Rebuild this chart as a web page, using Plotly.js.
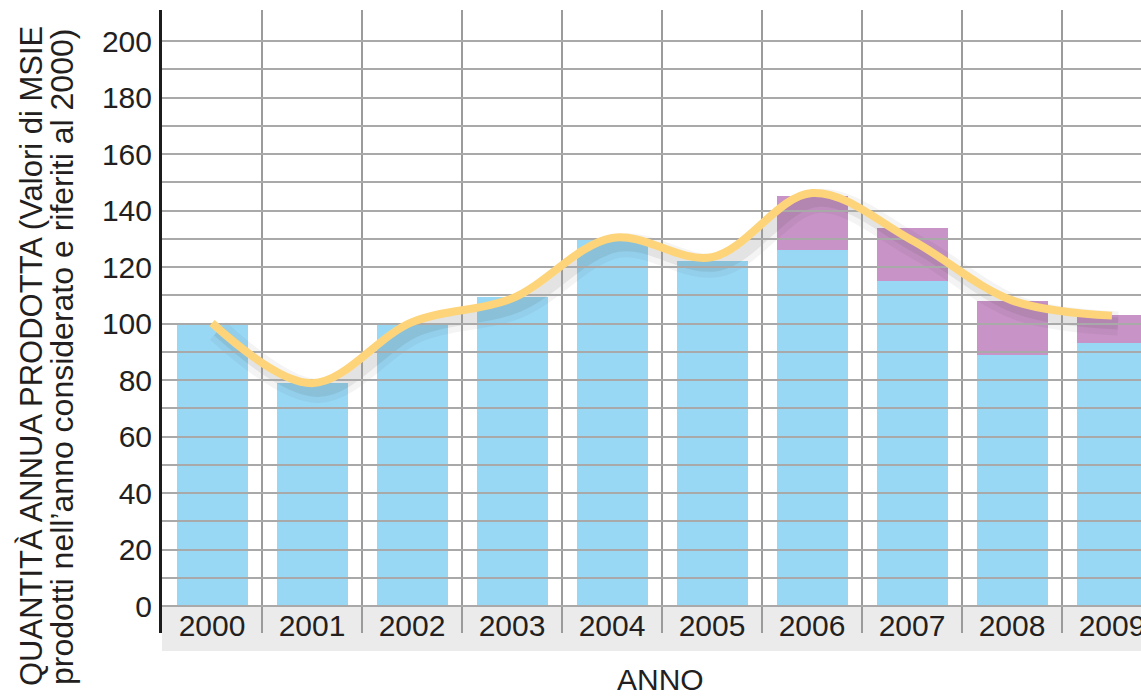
<!DOCTYPE html>
<html>
<head>
<meta charset="utf-8">
<script src="https://cdn.plot.ly/plotly-3.0.1.min.js"></script>
<style>
  html, body { margin: 0; padding: 0; background: #ffffff; }
  #chart { width: 1141px; height: 696px; }
</style>
</head>
<body>
<div id="chart"></div>
<script>
// ---- data ----
const years = ['2000', '2001', '2002', '2003', '2004', '2005', '2006', '2007', '2008', '2009'];
const baseValues = [100, 79, 100, 109.5, 130, 122, 126, 115, 89, 93];
const totalValues = [null, null, null, null, null, null, 145, 134, 108, 103];
const trendValues = [100.2, 78.9, 100.5, 108.9, 130.3, 123.5, 146.2, 129.5, 108.2, 102.8];
const yLabelTicks = [0, 20, 40, 60, 80, 100, 120, 140, 160, 180, 200];
const yGridTicks = [0, 10, 20, 30, 40, 50, 60, 70, 80, 90, 100, 110, 120, 130, 140, 150, 160, 170, 180, 190, 200];
const yTitleLine1 = 'QUANTITÀ ANNUA PRODOTTA (Valori di MSIE';
const yTitleLine2 = 'prodotti nell\u2019anno considerato e riferiti al 2000)';
const xTitle = 'ANNO';

// ---- derived table for stacking ----
const extraValues = totalValues.map((t, i) => (t === null ? null : t - baseValues[i]));

const FONT = 'Arial, "Liberation Sans", sans-serif';
const TXT = '#231f20';
const xRange = [-0.5, 9.29];
const yRange = [-9.56, 211];
const shadowDx = 0.06, shadowDy = 2.8;

const traces = [
  {
    type: 'bar', x: years, y: baseValues, xaxis: 'x', yaxis: 'y',
    marker: { color: '#98d8f5', line: { width: 0 } },
    hoverinfo: 'x+y', showlegend: false
  },
  {
    type: 'bar', x: years, y: extraValues, xaxis: 'x', yaxis: 'y',
    marker: { color: '#c893c6', line: { width: 0 } },
    hoverinfo: 'x+y', showlegend: false
  },
  // soft shadow of the trend line (drawn on offset overlay axes)
  {
    type: 'scatter', mode: 'lines', x: years, y: trendValues, xaxis: 'x3', yaxis: 'y3',
    line: { color: 'rgba(60,60,60,0.06)', width: 24, shape: 'spline', smoothing: 1 },
    hoverinfo: 'skip', showlegend: false
  },
  {
    type: 'scatter', mode: 'lines', x: years, y: trendValues, xaxis: 'x3', yaxis: 'y3',
    line: { color: 'rgba(60,60,60,0.09)', width: 12, shape: 'spline', smoothing: 1 },
    hoverinfo: 'skip', showlegend: false
  },
  // trend line, on the grid subplot so that it sits above grid
  {
    type: 'scatter', mode: 'lines', x: years, y: trendValues, xaxis: 'x2', yaxis: 'y2',
    line: { color: '#fdd47a', width: 8, shape: 'spline', smoothing: 1 },
    hoverinfo: 'x+y', showlegend: false
  }
];

const plotTop = 10, plotBottom = 633, plotLeft = 162, plotW = 979;
const plotH = plotBottom - plotTop;
const py = (pix) => (plotBottom - pix) / plotH;
const px = (pix) => (pix - plotLeft) / plotW;

const layout = {
  width: 1141, height: 696,
  margin: { l: plotLeft, r: 0, t: plotTop, b: 696 - plotBottom, pad: 0 },
  paper_bgcolor: '#ffffff',
  plot_bgcolor: 'rgba(0,0,0,0)',
  barmode: 'stack',
  bargap: 0.29,
  showlegend: false,
  font: { family: FONT, color: TXT, size: 30 },
  xaxis: {
    type: 'category', range: xRange, domain: [0, 1], anchor: 'y',
    categoryarray: years, categoryorder: 'array',
    showticklabels: false,
    showgrid: false, zeroline: false, showline: false, ticks: '',
    fixedrange: true
  },
  yaxis: {
    range: yRange, domain: [0, 1], anchor: 'x',
    tickmode: 'array', tickvals: yLabelTicks, ticktext: yLabelTicks.map(String),
    showgrid: false, zeroline: false,
    showline: true, linewidth: 3, linecolor: '#1c1c1c',
    ticks: 'outside', ticklen: 1, tickcolor: 'rgba(0,0,0,0)',
    tickfont: { family: FONT, size: 30, color: TXT },
    fixedrange: true
  },
  xaxis2: {
    type: 'category', range: xRange, domain: [0, 1], anchor: 'y2',
    categoryarray: years, categoryorder: 'array',
    tickson: 'boundaries', showgrid: true, gridcolor: '#9b9b9b', gridwidth: 2.5,
    showticklabels: true, ticklabelposition: 'inside', ticklabelstandoff: -12,
    ticklabeloverflow: 'allow',
    tickfont: { family: FONT, size: 30, color: TXT },
    ticks: '', zeroline: false, showline: false,
    fixedrange: true
  },
  yaxis2: {
    range: yRange, domain: [0, 1], anchor: 'x2',
    tickmode: 'array', tickvals: yGridTicks,
    showgrid: true, gridcolor: '#a9a9a9', gridwidth: 2,
    showticklabels: false, ticks: '', zeroline: false, showline: false,
    fixedrange: true
  },
  xaxis3: {
    type: 'category', overlaying: 'x', anchor: 'y3', visible: false,
    categoryarray: years, categoryorder: 'array',
    range: [xRange[0] - shadowDx, xRange[1] - shadowDx], fixedrange: true
  },
  yaxis3: {
    overlaying: 'y', anchor: 'x3', visible: false,
    range: [yRange[0] + shadowDy, yRange[1] + shadowDy], fixedrange: true
  },
  shapes: [
    {
      type: 'rect', xref: 'paper', yref: 'paper', layer: 'below',
      x0: 0, x1: 1, y0: py(651), y1: py(606),
      fillcolor: '#ebebeb', line: { width: 0 }
    }
  ],
  annotations: [
    {
      xref: 'paper', yref: 'paper', x: px(31), y: py(356),
      text: yTitleLine1, textangle: -90, showarrow: false,
      xanchor: 'center', yanchor: 'middle',
      font: { family: FONT, size: 31, color: TXT }
    },
    {
      xref: 'paper', yref: 'paper', x: px(62), y: py(357),
      text: yTitleLine2, textangle: -90, showarrow: false,
      xanchor: 'center', yanchor: 'middle',
      font: { family: FONT, size: 32, color: TXT }
    },
    {
      xref: 'paper', yref: 'paper', x: px(660), y: py(679),
      text: xTitle, showarrow: false,
      xanchor: 'center', yanchor: 'middle',
      font: { family: FONT, size: 30, color: TXT }
    }
  ]
};

Plotly.newPlot('chart', traces, layout, { displayModeBar: false, staticPlot: true });
</script>
</body>
</html>
